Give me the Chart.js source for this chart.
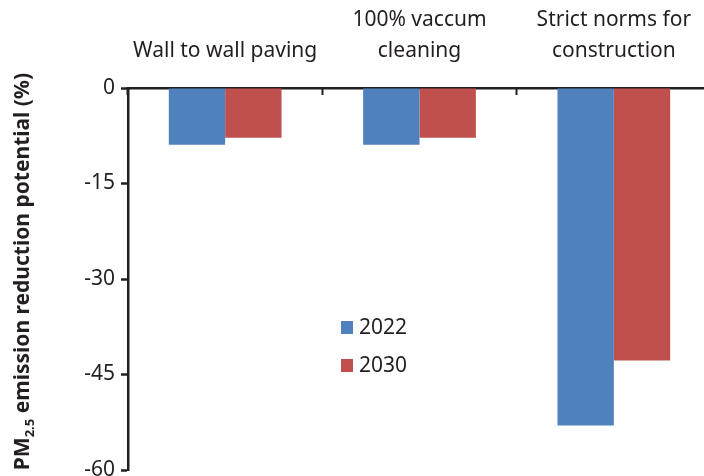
<!DOCTYPE html>
<html>
<head>
<meta charset="utf-8">
<script src="https://cdn.jsdelivr.net/npm/chart.js@4.4.0/dist/chart.umd.min.js"></script>
<style>
html, body { margin: 0; padding: 0; background: #fff; overflow: hidden; }
#wrap { width: 711px; height: 476px; }
</style>
</head>
<body>
<div id="wrap"><canvas id="chart"></canvas></div>
<script>
// Categorias (rótulos no topo) e séries
const categories = [['Wall to wall paving'], ['100% vaccum', 'cleaning'], ['Strict norms for', 'construction']];
const seriesLabels = ['2022', '2030'];
const values2022 = [-8.9, -8.9, -53.0];
const values2030 = [-7.8, -7.8, -42.8];
const yTicks = [0, -15, -30, -45, -60];

const ink = '#231f20';
const fontFamily = '"Noto Sans", "Open Sans", sans-serif';

// Legenda desenhada dentro da área do gráfico
const insideLegend = {
    id: 'insideLegend',
    afterDraw(chart) {
        const ctx = chart.ctx;
        ctx.save();
        ctx.font = '21px ' + fontFamily;
        ctx.textBaseline = 'middle';
        chart.data.datasets.forEach((ds, i) => {
            const y = 327 + i * 38;
            ctx.fillStyle = ds.backgroundColor;
            ctx.fillRect(341, y - 6, 12, 13);
            ctx.fillStyle = ink;
            ctx.fillText(ds.label, 359, y + 1);
        });
        ctx.restore();
    }
};

// Título do eixo Y com subscrito
const yTitle = {
    id: 'yTitle',
    afterDraw(chart) {
        const ctx = chart.ctx;
        const parts = [
            { t: 'PM', sub: false },
            { t: '2.5', sub: true },
            { t: ' emission reduction potential (%)', sub: false }
        ];
        ctx.save();
        ctx.translate(23, 73);
        ctx.rotate(-Math.PI / 2);
        ctx.fillStyle = ink;
        ctx.textBaseline = 'middle';
        ctx.textAlign = 'left';
        const big = 'bold 21px ' + fontFamily;
        const small = 'bold 13px ' + fontFamily;
        let total = 0;
        parts.forEach(p => { ctx.font = p.sub ? small : big; total += ctx.measureText(p.t).width; });
        let x = -total;
        parts.forEach(p => {
            ctx.font = p.sub ? small : big;
            ctx.fillText(p.t, x, p.sub ? 7 : 0);
            x += ctx.measureText(p.t).width;
        });
        ctx.restore();
    }
};

const ctx = document.getElementById('chart');
new Chart(ctx, {
    type: 'bar',
    data: {
        labels: categories,
        datasets: [
            { label: seriesLabels[0], data: values2022, backgroundColor: '#4f81bd' },
            { label: seriesLabels[1], data: values2030, backgroundColor: '#c0504d' }
        ]
    },
    options: {
        responsive: true,
        maintainAspectRatio: false,
        animation: false,
        layout: { padding: { left: 0, right: 0, top: 0, bottom: 6 } },
        barPercentage: 1,
        categoryPercentage: 0.58,
        plugins: {
            legend: { display: false },
            tooltip: { enabled: false }
        },
        scales: {
            x: {
                position: 'top',
                grid: {
                    offset: true,
                    drawOnChartArea: false,
                    tickLength: -7,
                    tickColor: ink,
                    tickWidth: 2
                },
                border: { color: ink, width: 2.5 },
                ticks: {
                    color: ink,
                    padding: 29,
                    maxRotation: 0,
                    font: { family: fontFamily, size: 21, lineHeight: 1.45 }
                },
                afterFit(scale) {
                    scale.height = 88;
                    scale.paddingLeft = 0;
                    scale.paddingRight = 0;
                }
            },
            y: {
                min: -60,
                max: 0,
                afterBuildTicks(scale) { scale.ticks = yTicks.map(v => ({ value: v })); },
                grid: {
                    drawOnChartArea: false,
                    tickLength: 7,
                    tickColor: ink,
                    tickWidth: 2.5
                },
                border: { color: ink, width: 2.5 },
                ticks: {
                    color: ink,
                    padding: 6,
                    font: { family: fontFamily, size: 21 }
                },
                afterFit(scale) {
                    scale.width = 128;
                    scale.paddingTop = 0;
                    scale.paddingBottom = 0;
                }
            }
        }
    },
    plugins: [insideLegend, yTitle]
});
</script>
</body>
</html>
